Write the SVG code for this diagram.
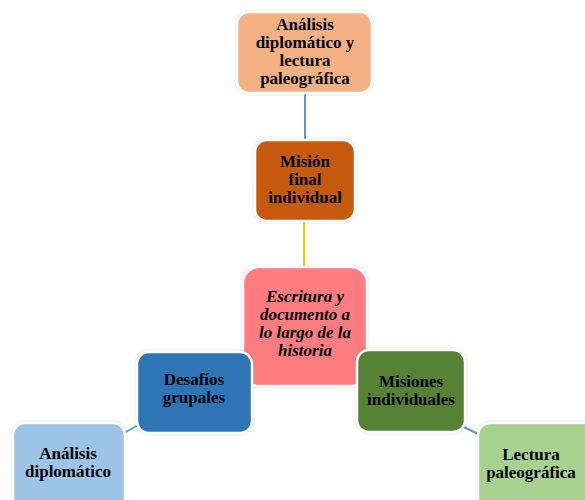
<svg xmlns="http://www.w3.org/2000/svg" width="585" height="500" viewBox="0 0 585 500">
<style>
.box{stroke:#ffffff;stroke-width:2.5;filter:url(#sh)}
.t{font-family:'Liberation Serif','DejaVu Serif',serif;font-weight:700;font-size:17px;fill:#000;text-anchor:middle}
.i{font-style:italic}
.c{fill:none;stroke-width:2}
</style>
<defs>
<filter id="sh" x="-10%" y="-10%" width="120%" height="120%">
<feDropShadow dx="0" dy="0" stdDeviation="1.2" flood-color="#000" flood-opacity="0.25"/>
</filter>
</defs>
<rect width="585" height="500" fill="#ffffff"/>
<g id="connectors">
<line class="c" x1="305" y1="93" x2="305" y2="141" stroke="#5B9BD5"/>
<line class="c" x1="304" y1="221" x2="304" y2="268" stroke="#FFC000"/>
<line class="c" x1="140" y1="424" x2="122" y2="434" stroke="#5B9BD5"/>
<line class="c" x1="460" y1="425" x2="480" y2="435" stroke="#5B9BD5"/>
</g>
<g id="n-analisis-lectura">
<rect class="box" x="237" y="12" width="135" height="81" rx="12" fill="#F4B183"/>
<text class="t" x="305" y="30">Análisis</text>
<text class="t" x="305" y="48">diplomático y</text>
<text class="t" x="305" y="66">lectura</text>
<text class="t" x="305" y="84">paleográfica</text>
</g>
<g id="n-mision-final">
<rect class="box" x="255" y="140" width="100" height="81" rx="12" fill="#C55A11"/>
<text class="t" x="305" y="167">Misión</text>
<text class="t" x="305" y="185">final</text>
<text class="t" x="305" y="203">individual</text>
</g>
<g id="n-centro">
<rect class="box" x="243" y="267" width="124" height="119" rx="16" fill="#FF7C80"/>
<text class="t i" x="305" y="302">Escritura y</text>
<text class="t i" x="305" y="320">documento a</text>
<text class="t i" x="305" y="338">lo largo de la</text>
<text class="t i" x="305" y="356">historia</text>
</g>
<g id="n-desafios">
<rect class="box" x="137" y="352" width="115" height="81" rx="12" fill="#2E75B6"/>
<text class="t" x="194" y="385">Desafíos</text>
<text class="t" x="194" y="403">grupales</text>
</g>
<g id="n-misiones">
<rect class="box" x="357" y="350" width="108" height="82" rx="12" fill="#548235"/>
<text class="t" x="411" y="387">Misiones</text>
<text class="t" x="411" y="405">individuales</text>
</g>
<g id="n-analisis">
<rect class="box" x="13" y="423" width="112" height="90" rx="12" fill="#9DC3E6"/>
<text class="t" x="68" y="459">Análisis</text>
<text class="t" x="68" y="477">diplomático</text>
</g>
<g id="n-lectura">
<rect class="box" x="478" y="423" width="120" height="90" rx="12" fill="#A9D18E"/>
<text class="t" x="531" y="460">Lectura</text>
<text class="t" x="531" y="478">paleográfica</text>
</g>
</svg>
